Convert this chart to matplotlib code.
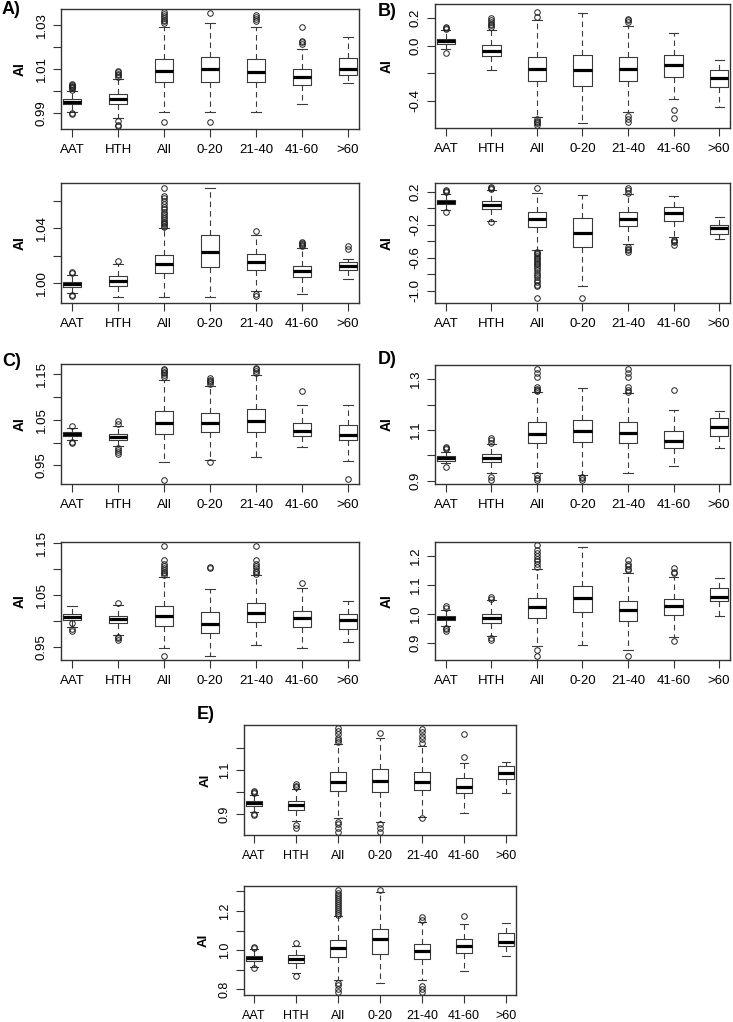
import matplotlib
matplotlib.use('Agg')
import matplotlib.pyplot as plt

plt.rcParams['font.family'] = ['Liberation Sans', 'DejaVu Sans']

groups = ['AAT', 'HTH', 'All', '0-20', '21-40', '41-60', '>60']

# Box statistics: [lower whisker, q1, median, q3, upper whisker]
# A) top
a1_stats = [[0.9905, 0.9941, 0.9953, 0.9965, 1.0003],
            [0.9880, 0.9941, 0.9967, 0.9989, 1.0058],
            [0.9905, 1.0041, 1.0092, 1.0149, 1.0294],
            [0.9908, 1.0041, 1.0100, 1.0158, 1.0312],
            [0.9905, 1.0042, 1.0089, 1.0149, 1.0291],
            [0.9941, 1.0029, 1.0065, 1.0103, 1.0192],
            [1.0036, 1.0074, 1.0103, 1.0152, 1.0245]]
a1_fliers = [[1.0008, 1.0013, 1.0018, 1.0022, 1.0026, 1.0030, 1.0034, 0.9898, 0.9901],
             [1.0067, 1.0074, 1.0081, 1.0088, 1.0094, 0.9867, 0.9849, 0.9842],
             [1.0309, 1.0318, 1.0326, 1.0335, 1.0343, 1.0351, 1.0359, 0.9862],
             [1.0355, 0.9862],
             [1.0321, 1.0330, 1.0338, 1.0347],
             [1.0215, 1.0222, 1.0230, 1.0291],
             []]

# A) bottom
a2_stats = [[0.9927, 0.9973, 0.9990, 1.0010, 1.0061],
            [0.9896, 0.9981, 1.0019, 1.0049, 1.0138],
            [0.9896, 1.0075, 1.0138, 1.0206, 1.0400],
            [0.9896, 1.0121, 1.0228, 1.0354, 1.0698],
            [0.9939, 1.0099, 1.0155, 1.0211, 1.0351],
            [0.9920, 1.0041, 1.0090, 1.0128, 1.0255],
            [1.0029, 1.0099, 1.0124, 1.0155, 1.0179]]
a2_fliers = [[1.0073, 1.0082, 0.9915, 0.9903],
             [1.0162],
             [1.0410, 1.0420, 1.0430, 1.0440, 1.0450, 1.0462, 1.0475, 1.0490, 1.0505,
              1.0520, 1.0540, 1.0560, 1.0580, 1.0600, 1.0620, 1.0640, 1.0698],
             [],
             [1.0380, 0.9920, 0.9908],
             [1.0272, 1.0280, 1.0288, 1.0296, 1.0304],
             [1.0247, 1.0271]]

# B) top
b1_stats = [[-0.024, 0.012, 0.032, 0.051, 0.112],
            [-0.180, -0.078, -0.037, 0.002, 0.117],
            [-0.517, -0.256, -0.171, -0.083, 0.185],
            [-0.566, -0.293, -0.178, -0.071, 0.239],
            [-0.485, -0.254, -0.168, -0.085, 0.146],
            [-0.390, -0.224, -0.139, -0.066, 0.093],
            [-0.444, -0.298, -0.237, -0.176, -0.102]]
b1_fliers = [[0.124, 0.130, 0.137, -0.054],
             [0.140, 0.150, 0.160, 0.170, 0.190, 0.202],
             [0.210, 0.244, -0.530, -0.545, -0.555, -0.565, -0.578],
             [],
             [0.171, 0.185, 0.195, -0.512, -0.537, -0.554],
             [-0.468, -0.529],
             []]

# B) bottom
b2_stats = [[-0.016, 0.057, 0.082, 0.106, 0.180],
            [-0.147, -0.004, 0.045, 0.090, 0.229],
            [-0.506, -0.229, -0.127, -0.045, 0.188],
            [-0.947, -0.473, -0.294, -0.118, 0.159],
            [-0.437, -0.208, -0.131, -0.049, 0.180],
            [-0.343, -0.147, -0.057, 0.012, 0.155],
            [-0.376, -0.310, -0.233, -0.200, -0.106]]
b2_fliers = [[0.196, 0.210, 0.220, -0.037],
             [0.237, 0.250, 0.260, -0.159],
             [0.249, -0.527, -0.545, -0.560, -0.580, -0.600, -0.620, -0.640, -0.660,
              -0.680, -0.700, -0.720, -0.750, -0.780, -0.810, -0.840, -0.870,
              -0.900, -0.930, -0.947, -1.090],
             [-1.090],
             [0.190, 0.220, 0.249, -0.465, -0.490, -0.500, -0.527],
             [-0.384, -0.400, -0.410, -0.445],
             []]

# C) top
c1_stats = [[1.0060, 1.0134, 1.0178, 1.0222, 1.0310],
            [0.9914, 1.0060, 1.0119, 1.0178, 1.0353],
            [0.9584, 1.0192, 1.0427, 1.0683, 1.1379],
            [0.9620, 1.0229, 1.0427, 1.0647, 1.1233],
            [0.9694, 1.0229, 1.0463, 1.0734, 1.1474],
            [0.9899, 1.0134, 1.0258, 1.0419, 1.0830],
            [0.9606, 1.0046, 1.0163, 1.0390, 1.0830]]
c1_fliers = [[1.0368, 1.0016, 0.9987],
             [1.0405, 1.0463, 0.9877, 0.9830, 0.9800, 0.9753],
             [1.143, 1.148, 1.152, 1.155, 1.158, 1.162, 0.918],
             [1.128, 1.132, 1.135, 1.138, 1.1416, 0.958],
             [1.152, 1.156, 1.160, 1.1635],
             [1.1123],
             [0.9196]]

# C) bottom
c2_stats = [[0.9897, 1.0024, 1.0087, 1.0138, 1.0290],
            [0.9738, 0.9960, 1.0036, 1.0106, 1.0310],
            [0.9480, 0.9916, 1.0100, 1.0290, 1.0837],
            [0.9334, 0.9782, 0.9948, 1.0183, 1.0608],
            [0.9545, 0.9992, 1.0163, 1.0354, 1.0881],
            [0.9480, 0.9897, 1.0068, 1.0202, 1.0640],
            [0.9610, 0.9846, 1.0024, 1.0132, 1.0392]]
c2_fliers = [[0.9960, 0.9846, 0.9820],
             [1.0340, 0.9706, 0.9680, 0.9643],
             [1.0875, 1.092, 1.095, 1.098, 1.102, 1.105, 1.110, 1.1167, 1.1433, 0.9334],
             [1.102, 1.104],
             [1.090, 1.094, 1.097, 1.101, 1.105, 1.110, 1.1167, 1.1433],
             [1.0722],
             []]

# D) top
d1_stats = [[0.9689, 0.9793, 0.9898, 0.9990, 1.0148],
            [0.9295, 0.9728, 0.9885, 1.0043, 1.0436],
            [0.9321, 1.0475, 1.0856, 1.1302, 1.2482],
            [0.9230, 1.0515, 1.0961, 1.1393, 1.2640],
            [0.9320, 1.0475, 1.0869, 1.1315, 1.2443],
            [0.9584, 1.0305, 1.0567, 1.0961, 1.1787],
            [1.0279, 1.0764, 1.1105, 1.1459, 1.1748]]
d1_fliers = [[1.024, 1.028, 1.032, 0.9557],
             [1.050, 1.060, 1.067, 0.9164, 0.9033],
             [1.253, 1.258, 1.263, 1.270, 1.310, 1.325, 1.3387, 0.923, 0.913, 0.9033],
             [0.9164, 0.9100, 0.9033],
             [1.250, 1.257, 1.270, 1.310, 1.325, 1.3387],
             [1.2574],
             []]

# D) bottom
d2_stats = [[0.9567, 0.9772, 0.9852, 0.9932, 1.0114],
            [0.9225, 0.9680, 0.9852, 0.9989, 1.0479],
            [0.8886, 0.9852, 1.0228, 1.0559, 1.1539],
            [0.8920, 1.0046, 1.0559, 1.0969, 1.2303],
            [0.8750, 0.9760, 1.0114, 1.0456, 1.1414],
            [0.9205, 0.9966, 1.0262, 1.0513, 1.1254],
            [0.9932, 1.0445, 1.0593, 1.0878, 1.1220]]
d2_fliers = [[1.019, 1.025, 0.951, 0.946, 0.9396],
             [1.052, 1.057, 0.917, 0.911],
             [1.162, 1.170, 1.180, 1.190, 1.200, 1.210, 1.220, 1.236, 0.875, 0.854],
             [],
             [1.150, 1.155, 1.163, 1.170, 1.185, 0.854],
             [1.139, 1.145, 1.156, 0.907],
             []]

# E) top
e1_stats = [[0.9125, 0.9395, 0.9500, 0.9605, 0.9875],
            [0.8705, 0.9200, 0.9425, 0.9605, 1.0145],
            [0.8825, 1.0070, 1.0475, 1.0925, 1.2155],
            [0.8675, 1.0025, 1.0505, 1.1030, 1.2425],
            [0.8900, 1.0085, 1.0475, 1.0925, 1.2080],
            [0.9050, 0.9950, 1.0250, 1.0625, 1.1330],
            [0.9980, 1.0580, 1.0850, 1.1195, 1.1345]]
e1_fliers = [[0.995, 1.000, 1.007, 0.902, 0.898],
             [1.022, 1.030, 1.037, 0.8525, 0.8375],
             [1.225, 1.235, 1.245, 1.260, 1.275, 1.2875, 0.8675, 0.855, 0.8375, 0.8225],
             [1.268, 0.855, 0.8375, 0.8225],
             [1.220, 1.240, 1.255, 1.270, 1.283, 0.8825],
             [1.157, 1.2605],
             []]

# E) bottom
e2_stats = [[0.9153, 0.9458, 0.9576, 0.9695, 1.0050],
            [0.8814, 0.9322, 0.9542, 0.9763, 1.0220],
            [0.8475, 0.9661, 1.0102, 1.0509, 1.1729],
            [0.8305, 0.9797, 1.0542, 1.1102, 1.2970],
            [0.8475, 0.9525, 0.9949, 1.0288, 1.1440],
            [0.8932, 0.9830, 1.0203, 1.0542, 1.1322],
            [0.9695, 1.0203, 1.0390, 1.0898, 1.1407]]
e2_fliers = [[1.010, 1.017, 0.907],
             [1.037, 0.8695],
             [1.18, 1.19, 1.20, 1.21, 1.22, 1.23, 1.24, 1.25, 1.26, 1.27, 1.28, 1.29,
              1.305, 0.834, 0.820, 0.803, 0.788],
             [1.308],
             [1.156, 1.1695, 0.817, 0.800, 0.788],
             [1.1746],
             []]

W, H = 733.0, 1022.0


def make_stats(stats, fliers):
    """ Turns the read-off numbers into dicts for bxp """
    out = []
    for g, (lo, q1, med, q3, hi), fl in zip(groups, stats, fliers):
        out.append(dict(label=g, whislo=lo, q1=q1, med=med, q3=q3,
                        whishi=hi, fliers=fl))
    return out


def draw_panel(fig, rect, stats, fliers, ylim, yticks, ylabels,
               fs=9.5, ai_x=-0.14):
    """ One R style boxplot panel, rect given in pixels (l, t, r, b) """
    left, top, right, bottom = rect
    ax = fig.add_axes([left / W, 1 - bottom / H,
                       (right - left) / W, (bottom - top) / H])
    ax.bxp(make_stats(stats, fliers), positions=range(1, 8),
           widths=0.4, capwidths=0.2,
           boxprops=dict(color='#3a3a3a', linewidth=0.8),
           medianprops=dict(color='black', linewidth=2.3,
                            solid_capstyle='butt'),
           whiskerprops=dict(color='#3a3a3a', linewidth=0.8,
                             linestyle=(0, (5, 3.5))),
           capprops=dict(color='#3a3a3a', linewidth=0.8),
           flierprops=dict(marker='o', markerfacecolor='none',
                           markeredgecolor='#222222', markersize=4.0,
                           markeredgewidth=0.7, linestyle='none'))
    ax.set_xlim(0.76, 7.24)
    ax.set_ylim(ylim)
    ax.set_yticks(yticks, ylabels, rotation=90, va='center')
    ax.tick_params(direction='out', length=5.5, width=0.8,
                   labelsize=fs, color='#333333')
    ax.tick_params(axis='x', pad=5.5)
    ax.tick_params(axis='y', pad=4)
    for s in ax.spines.values():
        s.set_linewidth(1.0)
        s.set_color('#333333')
    ax.text(ai_x, 0.5, 'AI', transform=ax.transAxes, rotation=90,
            ha='center', va='center', fontweight='bold', fontsize=fs + 0.5)
    return ax


fig = plt.figure(figsize=(W / 100, H / 100), dpi=100)

draw_panel(fig, (61, 9, 359, 129), a1_stats, a1_fliers, (0.9829, 1.0374),
           [0.99, 1.00, 1.01, 1.02, 1.03], ['0.99', '', '1.01', '', '1.03'])
draw_panel(fig, (61, 183, 359, 303), a2_stats, a2_fliers, (0.98545, 1.0732),
           [1.00, 1.02, 1.04, 1.06], ['1.00', '', '1.04', ''])
draw_panel(fig, (435, 4, 730, 128), b1_stats, b1_fliers, (-0.599, 0.304),
           [0.2, 0.0, -0.2, -0.4], ['0.2', '0.0', '', '-0.4'], ai_x=-0.163)
draw_panel(fig, (435, 183, 730, 303), b2_stats, b2_fliers, (-1.151, 0.31),
           [0.2, 0.0, -0.2, -0.4, -0.6, -0.8, -1.0],
           ['0.2', '', '-0.2', '', '-0.6', '', '-1.0'], ai_x=-0.163)
draw_panel(fig, (61, 364, 359, 484), c1_stats, c1_fliers, (0.9093, 1.172),
           [0.95, 1.00, 1.05, 1.10, 1.15], ['0.95', '', '1.05', '', '1.15'])
draw_panel(fig, (61, 542, 359, 660), c2_stats, c2_fliers, (0.9258, 1.1516),
           [0.95, 1.00, 1.05, 1.10, 1.15], ['0.95', '', '1.05', '', '1.15'])
draw_panel(fig, (435, 365, 730, 484), d1_stats, d1_fliers, (0.8875, 1.3557),
           [0.9, 1.0, 1.1, 1.2, 1.3], ['0.9', '', '1.1', '', '1.3'], ai_x=-0.163)
draw_panel(fig, (435, 542, 730, 660), d2_stats, d2_fliers, (0.8408, 1.247),
           [0.9, 1.0, 1.1, 1.2], ['0.9', '1.0', '1.1', '1.2'], ai_x=-0.163)
draw_panel(fig, (244, 725, 516, 835), e1_stats, e1_fliers, (0.8075, 1.3025),
           [0.9, 1.0, 1.1, 1.2], ['0.9', '', '1.1', ''], fs=9, ai_x=-0.14)
draw_panel(fig, (244, 886, 516, 995), e2_stats, e2_fliers, (0.771, 1.327),
           [0.8, 0.9, 1.0, 1.1, 1.2, 1.3], ['0.8', '', '1.0', '', '1.2', ''],
           fs=9, ai_x=-0.15)

# Panel letters
for lab, x, y in [('A)', 2, 9), ('B)', 378, 11), ('C)', 2, 362),
                  ('D)', 378, 359), ('E)', 197, 714)]:
    fig.text(x / W, 1 - y / H, lab, ha='left', va='center',
             fontsize=13, fontweight='bold')

fig.savefig('out.png', dpi=100)
